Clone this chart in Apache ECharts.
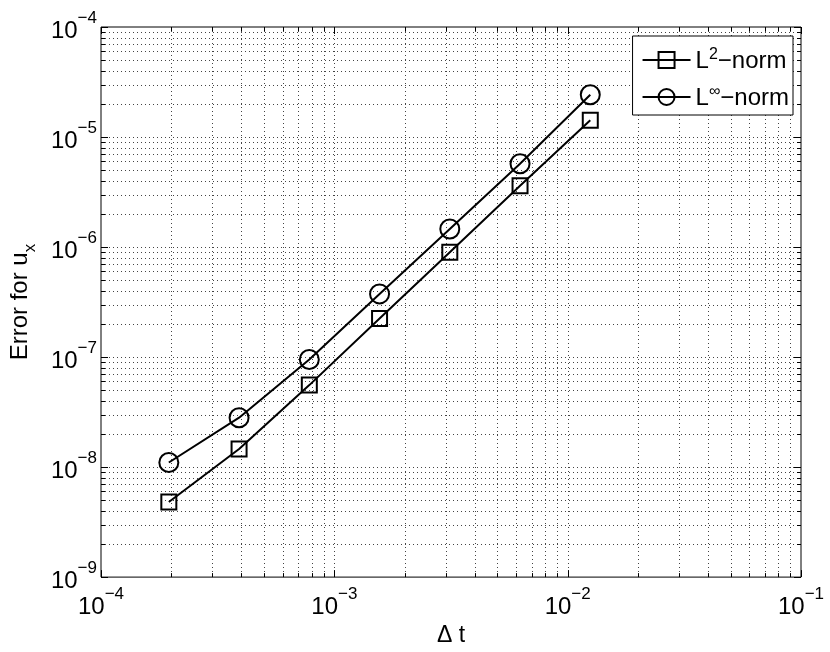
<!DOCTYPE html>
<html>
<head>
<meta charset="utf-8">
<title>Error for u_x</title>
<script src="https://cdn.jsdelivr.net/npm/echarts@6/dist/echarts.min.js"></script>
<style>
  * { margin: 0; padding: 0; }
  body { background: #fff; }
  #main { width: 830px; height: 652px; }
</style>
</head>
<body>
<div id="main"></div>
<script type="text/javascript">
// time step sizes and errors
var dt = [1.953e-4, 3.906e-4, 7.8125e-4, 1.5625e-3, 3.125e-3, 6.25e-3, 1.25e-2];
var l2Err = [4.82e-9, 1.46e-8, 5.56e-8, 2.24e-7, 8.95e-7, 3.61e-6, 1.42e-5];
var linfErr = [1.10e-8, 2.81e-8, 9.51e-8, 3.75e-7, 1.46e-6, 5.71e-6, 2.42e-5];

// decade exponents of the two axes
var xDecades = [-4, -3, -2, -1];
var yDecades = [-9, -8, -7, -6, -5, -4];

var FONT = '"Liberation Sans", Arial, Helvetica, sans-serif';
var MINUS = '\u2212';

// grid / tick positions: 1..9 times each decade (MATLAB style log grid)
function logGrid(decades) {
    var out = [];
    for (var i = 0; i < decades.length; i++) {
        var last = i === decades.length - 1;
        for (var m = 1; m <= (last ? 1 : 9); m++) {
            out.push(m * Math.pow(10, decades[i]));
        }
    }
    return out;
}
var xGrid = logGrid(xDecades);
var yGrid = logGrid(yDecades);

function isMajor(v) {
    var l = Math.log10(v);
    return Math.abs(l - Math.round(l)) < 1e-9;
}

function gridRender(dir) {
    return function (params, api) {
        var cs = params.coordSys;
        var v = api.value(dir === 'x' ? 0 : 1);
        var p = api.coord([api.value(0), api.value(1)]);
        var tl = isMajor(v) ? 7 : 4;
        var dot = { stroke: '#444', lineWidth: 1, lineDash: [1, 3] };
        var tick = { stroke: '#000', lineWidth: 1 };
        var kids = [];
        if (dir === 'x') {
            var x = Math.round(p[0]) + 0.5;
            var y0 = cs.y, y1 = cs.y + cs.height;
            if (x > cs.x + 1 && x < cs.x + cs.width - 1) {
                kids.push({ type: 'line', shape: { x1: x, y1: y0, x2: x, y2: y1 }, style: dot });
            }
            kids.push({ type: 'line', shape: { x1: x, y1: y1, x2: x, y2: y1 - tl }, style: tick });
            kids.push({ type: 'line', shape: { x1: x, y1: y0, x2: x, y2: y0 + tl }, style: tick });
        } else {
            var y = Math.round(p[1]) + 0.5;
            var x0 = cs.x, x1 = cs.x + cs.width;
            if (y > cs.y + 1 && y < cs.y + cs.height - 1) {
                kids.push({ type: 'line', shape: { x1: x0, y1: y, x2: x1, y2: y }, style: dot });
            }
            kids.push({ type: 'line', shape: { x1: x0, y1: y, x2: x0 + tl, y2: y }, style: tick });
            kids.push({ type: 'line', shape: { x1: x1, y1: y, x2: x1 - tl, y2: y }, style: tick });
        }
        return { type: 'group', children: kids };
    };
}

function powLabel(v) {
    var e = Math.round(Math.log10(v));
    return '{b|10}{s|' + (e < 0 ? MINUS + (-e) : e) + '}';
}

var labelRich = {
    b: { fontSize: 24, lineHeight: 33, verticalAlign: 'bottom', fontFamily: FONT, color: '#000' },
    s: { fontSize: 17, lineHeight: 17, verticalAlign: 'top', fontFamily: FONT, color: '#000' }
};

var myChart = echarts.init(document.getElementById('main'), null, { renderer: 'canvas' });

var option = {
    backgroundColor: '#fff',
    animation: false,
    textStyle: { fontFamily: FONT, color: '#000' },
    grid: {
        left: 101, top: 27, width: 700, height: 552,
        show: true, borderColor: '#000', borderWidth: 1, backgroundColor: '#fff'
    },
    legend: {
        orient: 'vertical',
        right: 37,
        top: 36,
        padding: [11, 4, 5, 9],
        itemGap: 11,
        itemWidth: 48,
        itemHeight: 20,
        backgroundColor: '#fff',
        borderColor: '#000',
        borderWidth: 1,
        borderRadius: 0,
        data: ['L2', 'Linf'],
        formatter: function (name) {
            return '{a|L}{s|' + (name === 'L2' ? '2' : '\u221e') + '}{a|' + MINUS + 'norm}';
        },
        textStyle: {
            color: '#000',
            rich: {
                a: { fontSize: 24, lineHeight: 26, verticalAlign: 'bottom', fontFamily: FONT, color: '#000' },
                s: { fontSize: 16, lineHeight: 16, verticalAlign: 'top', fontFamily: FONT, color: '#000' }
            }
        }
    },
    xAxis: {
        type: 'log',
        logBase: 10,
        min: Math.pow(10, xDecades[0]),
        max: Math.pow(10, xDecades[xDecades.length - 1]),
        name: '\u0394 t',
        nameLocation: 'middle',
        nameGap: 42,
        nameTextStyle: { fontSize: 23, color: '#000', fontFamily: FONT },
        axisLine: { show: false },
        axisTick: { show: false },
        splitLine: { show: false },
        axisLabel: {
            margin: 9,
            showMinLabel: true,
            showMaxLabel: true,
            formatter: powLabel,
            rich: labelRich
        }
    },
    yAxis: {
        type: 'log',
        logBase: 10,
        min: Math.pow(10, yDecades[0]),
        max: Math.pow(10, yDecades[yDecades.length - 1]),
        name: '{m|Error for u}{sub|x}',
        nameLocation: 'middle',
        nameRotate: 90,
        nameGap: 62,
        nameTextStyle: {
            color: '#000',
            rich: {
                m: { fontSize: 24, lineHeight: 31, verticalAlign: 'top', fontFamily: FONT, color: '#000' },
                sub: { fontSize: 17, lineHeight: 17, verticalAlign: 'bottom', fontFamily: FONT, color: '#000' }
            }
        },
        axisLine: { show: false },
        axisTick: { show: false },
        splitLine: { show: false },
        axisLabel: {
            margin: 4,
            showMinLabel: true,
            showMaxLabel: true,
            padding: [0, 0, 1, 0],
            formatter: powLabel,
            rich: labelRich
        }
    },
    series: [
        {
            type: 'custom',
            silent: true,
            z: 1,
            renderItem: gridRender('x'),
            encode: { x: 0, y: 1 },
            data: xGrid.map(function (v) { return [v, 1e-6]; })
        },
        {
            type: 'custom',
            silent: true,
            z: 1,
            renderItem: gridRender('y'),
            encode: { x: 0, y: 1 },
            data: yGrid.map(function (v) { return [1e-3, v]; })
        },
        {
            name: 'L2',
            type: 'line',
            z: 3,
            symbol: 'rect',
            symbolSize: 15,
            lineStyle: { color: '#000', width: 2 },
            itemStyle: { color: 'transparent', borderColor: '#000', borderWidth: 2 },
            data: dt.map(function (x, i) { return [x, l2Err[i]]; })
        },
        {
            name: 'Linf',
            type: 'line',
            z: 3,
            symbol: 'circle',
            symbolSize: 19,
            lineStyle: { color: '#000', width: 2 },
            itemStyle: { color: 'transparent', borderColor: '#000', borderWidth: 2 },
            data: dt.map(function (x, i) { return [x, linfErr[i]]; })
        }
    ]
};

myChart.setOption(option);
</script>
</body>
</html>
